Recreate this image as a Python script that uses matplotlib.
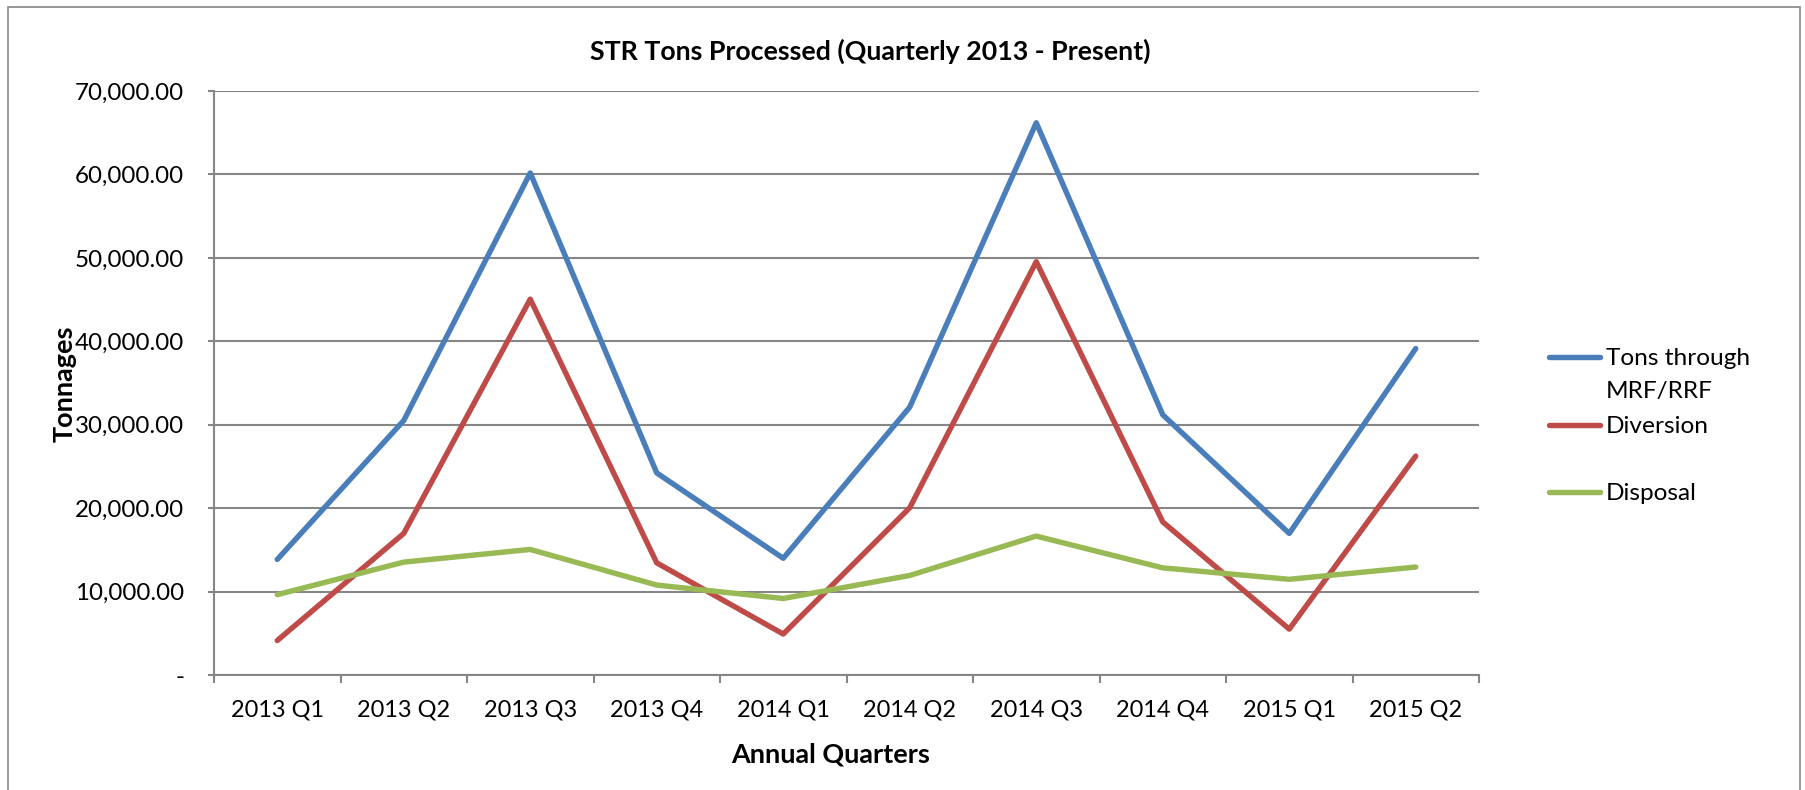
import matplotlib
matplotlib.use('Agg')
from matplotlib import pyplot as plt
from matplotlib.lines import Line2D
from matplotlib.patches import Rectangle
from matplotlib.textpath import TextPath
from matplotlib.font_manager import FontProperties
from matplotlib.ticker import FuncFormatter, FixedLocator

plt.rcParams['font.family'] = ['Lato', 'DejaVu Sans']

quarters = ['2013 Q1', '2013 Q2', '2013 Q3', '2013 Q4', '2014 Q1',
            '2014 Q2', '2014 Q3', '2014 Q4', '2015 Q1', '2015 Q2']
tons_mrf = [13850, 30500, 60180, 24220, 13990, 32110, 66190, 31190, 16970, 39130]
diversion = [4130, 16970, 45050, 13440, 4910, 20050, 49540, 18350, 5500, 26240]
disposal = [9630, 13530, 15050, 10780, 9170, 11930, 16650, 12840, 11470, 12940]

series_names = ['Tons through\nMRF/RRF', 'Diversion', 'Disposal']
colors = ['#4A7EBB', '#BE4B48', '#98B954']
grey = '#868686'

W, H, DPI = 1805, 790, 100


def fit_size(text, target_px, weight='normal'):
    """font size (pt) that makes the ink of `text` about target_px wide"""
    fp = FontProperties(family='Lato', weight=weight)
    w = TextPath((0, 0), text, size=10, prop=fp).get_extents().width
    return 10 * target_px / (w * DPI / 72)


tick_fs = fit_size('70,000.00', 107)
xtick_fs = fit_size('2014 Q1', 90)
xlab_fs = fit_size('Annual Quarters', 198, 'bold')
title_fs = fit_size('STR Tons Processed (Quarterly 2013 - Present)', 559, 'bold')
ylab_fs = fit_size('Tonnages', 115, 'bold')
leg_fs = fit_size('Tons through', 142)

fig = plt.figure(figsize=(W / DPI, H / DPI), dpi=DPI)
ax = fig.add_axes([214 / W, 1 - 675 / H, (1479 - 214) / W, (675 - 91) / H])

x = list(range(len(quarters)))
for vals, c in zip([tons_mrf, diversion, disposal], colors):
    ax.plot(x, vals, color=c, lw=3.9, solid_capstyle='round', solid_joinstyle='round', zorder=3)

ax.set_xlim(-0.5, len(quarters) - 0.5)
ax.set_ylim(0, 70000)
ax.set_yticks(range(0, 70001, 10000))
ax.yaxis.set_major_formatter(FuncFormatter(lambda v, p: '-' if v == 0 else f'{v:,.2f}'))
ax.grid(axis='y', color=grey, lw=1.5, zorder=1)

# tick marks on category boundaries, labels at the centres
ax.xaxis.set_major_locator(FixedLocator([i - 0.5 for i in range(len(quarters) + 1)]))
ax.xaxis.set_minor_locator(FixedLocator(x))
ax.set_xticklabels([])
ax.set_xticklabels(quarters, minor=True)
ax.tick_params(axis='x', which='major', direction='out', length=6, width=1.5, color=grey)
ax.tick_params(axis='x', which='minor', length=0, pad=18, labelsize=xtick_fs)
ax.tick_params(axis='y', direction='out', length=4.5, width=1.5, color=grey,
               labelsize=tick_fs, pad=17)

for s in ['top', 'right']:
    ax.spines[s].set_visible(False)
for s in ['left', 'bottom']:
    ax.spines[s].set_color(grey)
    ax.spines[s].set_linewidth(1.5)

fig.text(870 / W, 1 - 60 / H, 'STR Tons Processed (Quarterly 2013 - Present)',
         ha='center', va='baseline', fontsize=title_fs, fontweight='bold')
fig.text(831 / W, 1 - 762 / H, 'Annual Quarters', ha='center', va='baseline',
         fontsize=xlab_fs, fontweight='bold')
fig.text(65 / W, 1 - 384 / H, 'Tonnages', ha='center', va='center', rotation=90,
         fontsize=ylab_fs, fontweight='bold')

# legend, drawn by hand so the wrapped label keeps its marker on the first line
leg_y = [357, 425, 492]
for name, c, yy in zip(series_names, colors, leg_y):
    fy = 1 - yy / H
    fig.add_artist(Line2D([1549 / W, 1600 / W], [fy, fy], color=c, lw=3.9,
                          solid_capstyle='round', transform=fig.transFigure))
    for k, ln in enumerate(name.split('\n')):
        fig.text(1606 / W, 1 - (yy + 8 + k * 33) / H, ln, ha='left', va='baseline',
                 fontsize=leg_fs)

fig.add_artist(Rectangle((8 / W, -0.01), 1792 / W, 0.01 + 1 - 7 / H,
                         fill=False, edgecolor=grey, lw=1.2, transform=fig.transFigure))

fig.savefig('out.png', dpi=DPI)
